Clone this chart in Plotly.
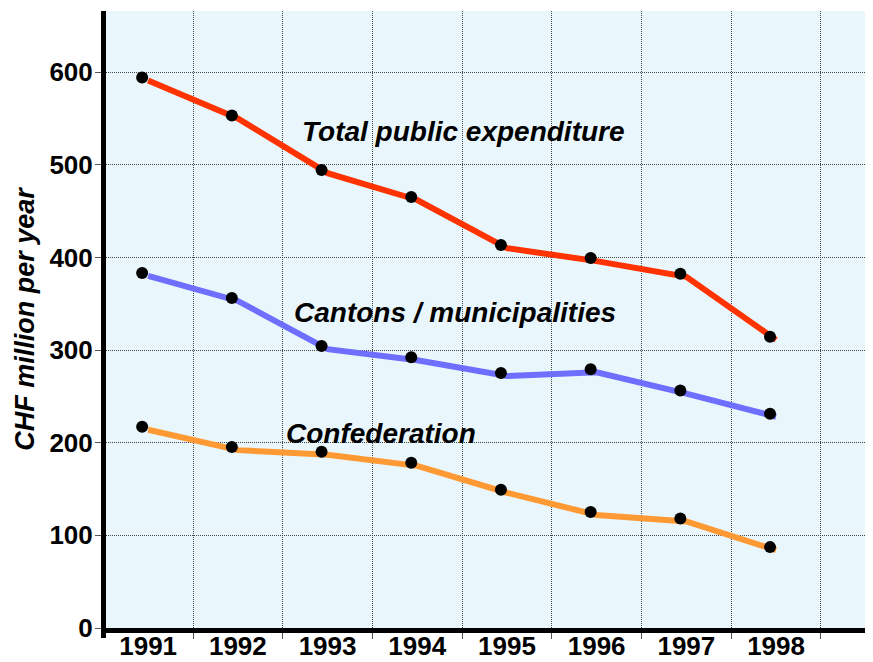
import plotly.graph_objects as go

years = [1991, 1992, 1993, 1994, 1995, 1996, 1997, 1998]
total = [591, 550, 491, 462, 410, 396, 379, 311]
cantons = [380, 353, 301, 289, 272, 276, 253, 228]
confed = [214, 192, 187, 175, 146, 122, 115, 84]
year_labels = [str(y) for y in years]
y_ticks = [0, 100, 200, 300, 400, 500, 600]

series = [
    ("Total public expenditure", total, "#FF3300"),
    ("Cantons / municipalities", cantons, "#6F6FFF"),
    ("Confederation", confed, "#FF9933"),
]

FONT = "Liberation Sans, Arial, sans-serif"
fig = go.Figure()
for name, vals, col in series:
    fig.add_trace(go.Scatter(x=years, y=vals, mode="lines", name=name,
                             line=dict(color=col, width=6), showlegend=False,
                             xaxis="x", yaxis="y"))
for name, vals, col in series:
    fig.add_trace(go.Scatter(x=years, y=vals, mode="markers", name=name,
                             marker=dict(color="black", size=12), showlegend=False,
                             xaxis="x2", yaxis="y2"))

xr = [1990.53, 1999.17]
yr = [0, 666]
dx = 0.067
dy = 3.3
DOT = "1px,1px"
GRID = "#444"

# page body has an 8px default margin; compensate in the figure margins
fig.update_layout(
    width=873, height=662,
    margin=dict(l=98, r=0, t=3, b=42, autoexpand=False),
    paper_bgcolor="white",
    plot_bgcolor="#E9F7FD",
    font=dict(family=FONT, color="black"),
    xaxis=dict(range=xr, tickmode="array", tickvals=years, ticktext=year_labels,
               showgrid=False, zeroline=False, ticks="", automargin=False,
               tickfont=dict(size=26, weight="bold"), ticklabelstandoff=-9,
               showline=True, linecolor="black", linewidth=5,
               minor=dict(tickvals=[y + 0.5 for y in years], showgrid=True,
                          griddash=DOT, gridcolor=GRID, gridwidth=1,
                          ticks="outside", ticklen=6, tickcolor="#555", tickwidth=1)),
    yaxis=dict(range=yr, tickmode="array", tickvals=y_ticks, automargin=False,
               showgrid=True, griddash=DOT, gridcolor=GRID, gridwidth=1,
               zeroline=False, ticks="outside", ticklen=6, tickcolor="#555", tickwidth=1,
               tickfont=dict(size=26, weight="bold"), ticklabelstandoff=-3,
               showline=True, linecolor="black", linewidth=5,
               title=dict(text="CHF million per year",
                          font=dict(size=27, weight="bold", style="italic"),
                          standoff=8)),
    xaxis2=dict(range=[xr[0] + dx, xr[1] + dx], overlaying="x", visible=False),
    yaxis2=dict(range=[yr[0] - dy, yr[1] - dy], overlaying="y", visible=False),
)

# short extension of the vertical axis line below the horizontal axis
fig.add_shape(type="rect", xref="paper", yref="paper",
              xsizemode="pixel", xanchor=0, x0=-5, x1=0,
              ysizemode="pixel", yanchor=0, y0=-10, y1=0,
              fillcolor="black", line=dict(width=0), layer="above")

labels = [
    ("Total public expenditure", 1994.51, 536),
    ("Cantons / municipalities", 1994.42, 341),
    ("Confederation", 1993.6, 210),
]
for text, xa, ya in labels:
    fig.add_annotation(x=xa, y=ya, xref="x", yref="y", text=text, showarrow=False,
                       font=dict(size=28, weight="bold", style="italic", family=FONT))

fig.write_html("out.html")
